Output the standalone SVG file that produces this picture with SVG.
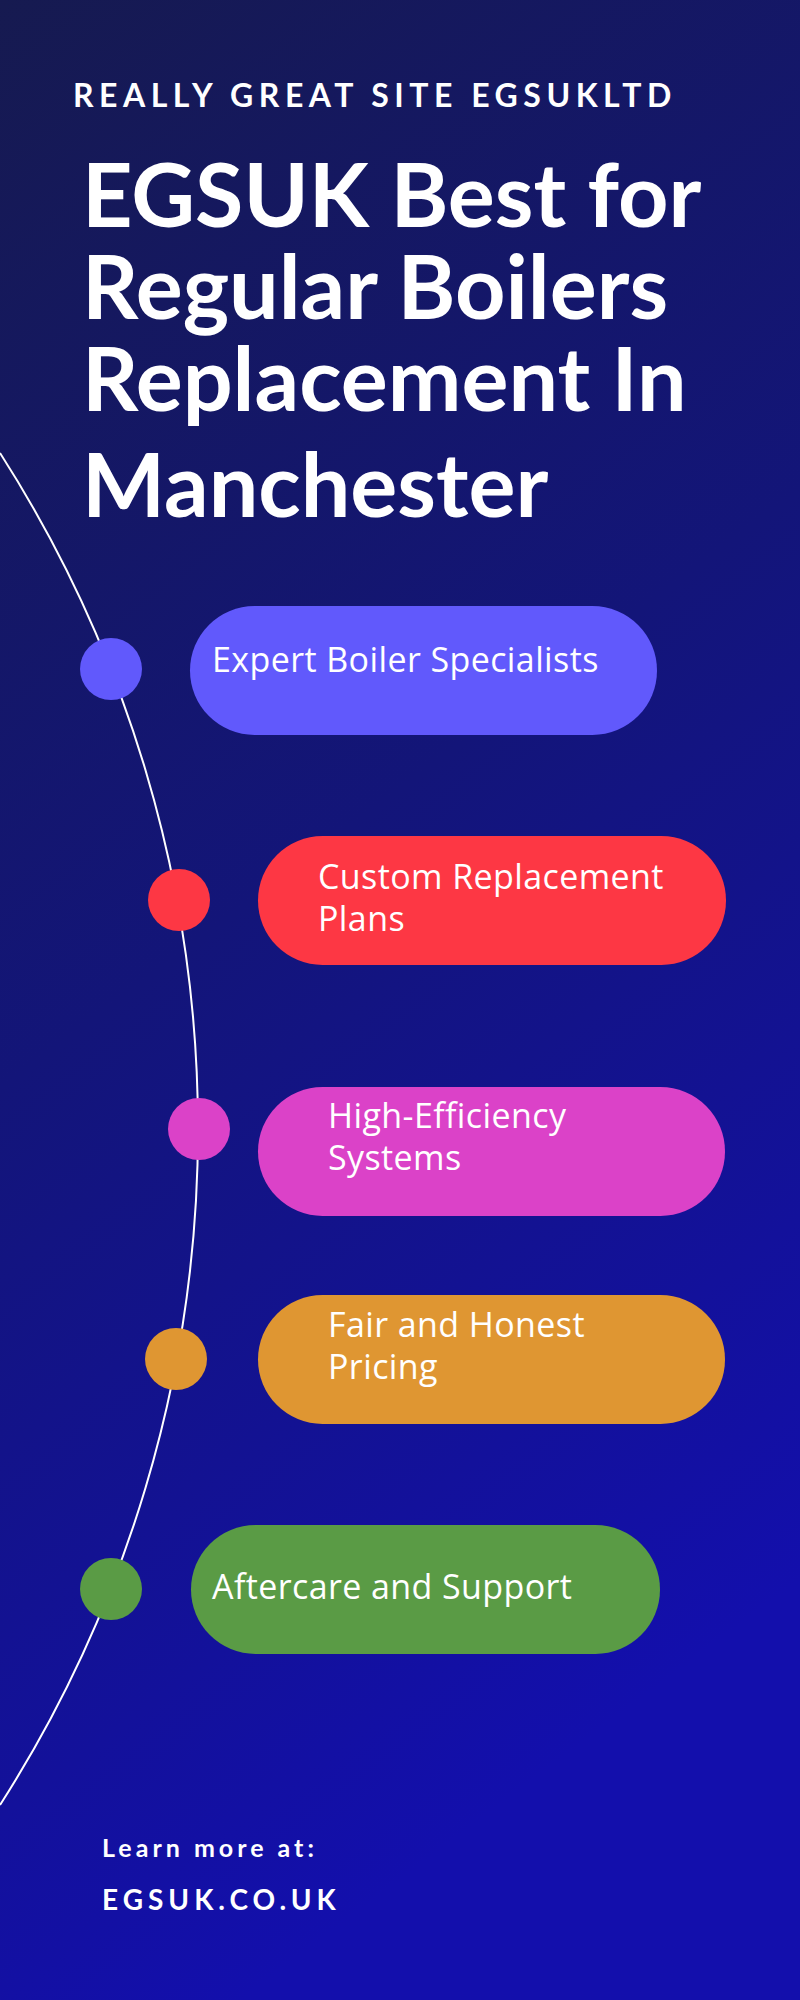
<svg xmlns="http://www.w3.org/2000/svg" width="800" height="2000" viewBox="0 0 800 2000">
<defs>
<linearGradient id="bg" x1="0" y1="0" x2="0.3" y2="1">
<stop offset="0" stop-color="#161a50"/>
<stop offset="0.5" stop-color="#131579"/>
<stop offset="1" stop-color="#130fac"/>
</linearGradient>
<style>
.lbl{font-family:"Open Sans","Liberation Sans",sans-serif;font-size:34px;letter-spacing:0.4px;fill:#ffffff}
.hd{font-family:Lato,"Liberation Sans",sans-serif;font-weight:bold;font-size:88px;fill:#ffffff}
</style>
</defs>
<rect width="800" height="2000" fill="url(#bg)"/>
<text x="73" y="107" font-family="Lato,'Liberation Sans',sans-serif" font-weight="bold" font-size="32" letter-spacing="5.5" fill="#fff">REALLY GREAT SITE EGSUKLTD</text>
<text class="hd" x="82" y="227">EGSUK Best for</text>
<text class="hd" x="82" y="319">Regular Boilers</text>
<text class="hd" x="82" y="411">Replacement In</text>
<text class="hd" x="82" y="517">Manchester</text>
<g id="connectors">
<path d="M0,453 A1253,1253 0 0 1 0,1805" fill="none" stroke="#ffffff" stroke-width="2"/>
</g>
<g id="n1"><circle cx="111" cy="669" r="31" fill="#6159fc"/><rect x="190" y="606" width="467" height="129" rx="64.5" fill="#6159fc"/><text class="lbl" x="212" y="672">Expert Boiler Specialists</text></g>
<g id="n2"><circle cx="179" cy="900" r="31" fill="#fd3744"/><rect x="258" y="836" width="468" height="129" rx="64.5" fill="#fd3744"/><text class="lbl" x="318" y="889">Custom Replacement</text><text class="lbl" x="318" y="931">Plans</text></g>
<g id="n3"><circle cx="199" cy="1129" r="31" fill="#db42c8"/><rect x="258" y="1087" width="467" height="129" rx="64.5" fill="#db42c8"/><text class="lbl" x="328" y="1128">High-Efficiency</text><text class="lbl" x="328" y="1170">Systems</text></g>
<g id="n4"><circle cx="176" cy="1359" r="31" fill="#df9632"/><rect x="258" y="1295" width="467" height="129" rx="64.5" fill="#df9632"/><text class="lbl" x="328" y="1337">Fair and Honest</text><text class="lbl" x="328" y="1379">Pricing</text></g>
<g id="n5"><circle cx="111" cy="1589" r="31" fill="#5a9b45"/><rect x="191" y="1525" width="469" height="129" rx="64.5" fill="#5a9b45"/><text class="lbl" x="212" y="1599">Aftercare and Support</text></g>
<text x="102" y="1857" font-family="Lato,'Liberation Sans',sans-serif" font-weight="bold" font-size="25" letter-spacing="4" fill="#fff">Learn more at:</text>
<text x="102" y="1910" font-family="Lato,'Liberation Sans',sans-serif" font-weight="bold" font-size="28" letter-spacing="5" fill="#fff">EGSUK.CO.UK</text>
</svg>
